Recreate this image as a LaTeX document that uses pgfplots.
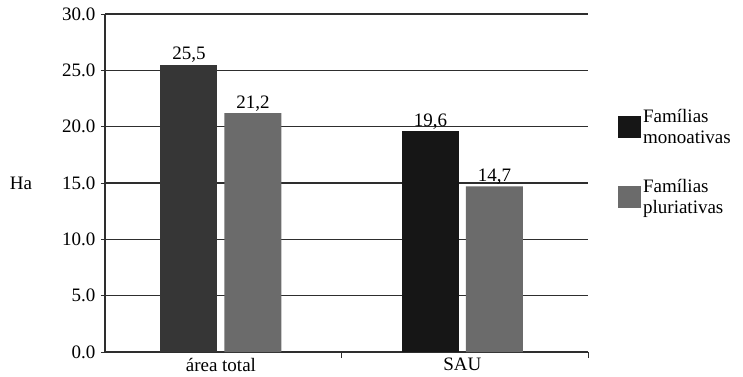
\documentclass[border=0pt]{standalone}
\usepackage{pgfplots}
\pgfplotsset{compat=1.18}
\usepackage{fontspec}
\setmainfont{Liberation Serif}
\definecolor{monoA}{HTML}{363636}
\definecolor{monoB}{HTML}{161616}
\definecolor{pluri}{HTML}{6B6B6B}
\definecolor{gridc}{HTML}{2E2E2E}
\begin{document}
\begin{tikzpicture}
\path[use as bounding box] (-105pt,-24pt) rectangle (638pt,352pt);
\begin{axis}[
  scale only axis,
  width=483pt, height=338pt,
  font=\fontsize{19}{22}\selectfont,
  xmin=-0.48, xmax=1.52,
  ymin=0, ymax=30,
  ytick={0,5,...,30},
  xtick={0,1},
  xticklabels={área total, SAU},
  minor xtick={0.5,1.52},
  major x tick style={draw=none},
  minor tick length=6pt,
  major tick length=8pt,
  tick align=center,
  tick style={gridc, line width=1pt},
  axis x line*=bottom,
  axis y line*=left,
  axis line style={gridc, line width=1.3pt, -},
  ymajorgrids,
  grid style={gridc, line width=1.3pt},
  /pgf/number format/.cd, fixed, fixed zerofill, precision=1, assume math mode=true,
  /pgfplots/.cd,
  yticklabel style={xshift=-2pt, font=\fontsize{19}{22}\selectfont},
  xticklabel style={yshift=3pt, inner sep=1pt, font=\fontsize{19}{22}\selectfont},
  every axis y label/.style={at={(axis description cs:-0.174,0.5)}, anchor=center, font=\fontsize{19}{22}\selectfont},
  ylabel={Ha},
  ybar,
  bar width=57pt,
  nodes near coords={\pgfmathprintnumber[fixed,fixed zerofill,precision=1,use comma,assume math mode=true]{\pgfplotspointmeta}},
  nodes near coords style={font=\fontsize{19}{22}\selectfont, inner sep=2pt},
  legend style={at={(1.062,0.725)}, anchor=north west, draw=none, fill=none,
    inner sep=0pt, row sep=30pt, font=\fontsize{19}{21}\selectfont,
    cells={anchor=west, align=left}},
  legend image code/.code={\fill[#1] (0pt,-11pt) rectangle (23pt,11pt);},
  clip=false,
]
\addplot[fill=monoB, draw=none, bar shift=-32pt] coordinates {(1,19.6)};
\addlegendentry{Famílias\\monoativas}
\addplot[fill=pluri, draw=none, bar shift=32pt] coordinates {(0,21.2) (1,14.7)};
\addlegendentry{Famílias\\pluriativas}
\addplot[forget plot, fill=monoA, draw=none, bar shift=-32pt] coordinates {(0,25.5)};
\end{axis}
\end{tikzpicture}
\end{document}
